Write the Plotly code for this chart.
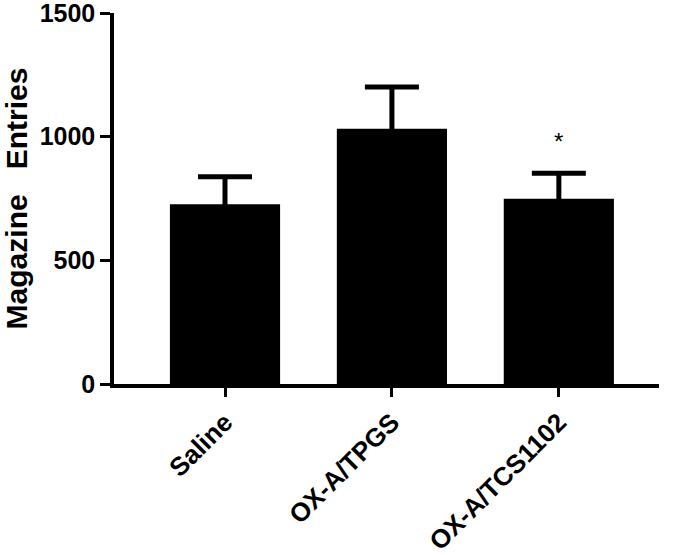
import plotly.graph_objects as go

categories = ["Saline", "OX-A/TPGS", "OX-A/TCS1102"]
means = [727, 1032, 749]
sem = [111, 169, 103]
y_ticks = [0, 500, 1000, 1500]
sig_labels = ["", "", "*"]

FONT = "Arial, Liberation Sans"

fig = go.Figure()
fig.add_trace(go.Bar(
    x=[0, 1, 2], y=means,
    marker=dict(color="black", line=dict(width=0)),
    width=0.66,
    error_y=dict(type="data", array=sem, symmetric=True,
                 color="black", thickness=5, width=27),
))

for i, lab in enumerate(sig_labels):
    if lab:
        fig.add_annotation(x=i, y=means[i] + sem[i], yshift=16, text=lab, showarrow=False,
                           yanchor="bottom", font=dict(family=FONT, size=24, color="black"))

fig.update_layout(
    width=675, height=555,
    margin=dict(l=114, r=16, t=12.5, b=171),
    paper_bgcolor="white", plot_bgcolor="white",
    showlegend=False,
    font=dict(family=FONT, size=25, color="black"),
)
fig.update_xaxes(
    range=[-0.665, 2.6], tickvals=[0, 1, 2], ticktext=[f"<b>{c}</b>" for c in categories],
    tickangle=-45, showline=True, linecolor="black", linewidth=3.5,
    ticks="outside", ticklen=9, tickwidth=3, tickcolor="black",
    showgrid=False, zeroline=False, automargin=False, ticklabeloverflow="allow",
    tickfont=dict(family=FONT, size=26, color="black"),
)
fig.update_yaxes(
    range=[0, 1500], tickvals=y_ticks, ticktext=[f"<b>{v}</b>" for v in y_ticks],
    showline=True, linecolor="black", linewidth=3.5,
    ticks="outside", ticklen=10, tickwidth=3, tickcolor="black",
    showgrid=False, zeroline=False, automargin=False, ticklabeloverflow="allow",
    tickfont=dict(family=FONT, size=25, color="black"),
    title=dict(text="<b>Magazine   Entries</b>", font=dict(family=FONT, size=30, color="black"), standoff=16),
)

fig.write_html("out.html", config={"displayModeBar": False},
               post_script="document.body.style.margin='0';")
